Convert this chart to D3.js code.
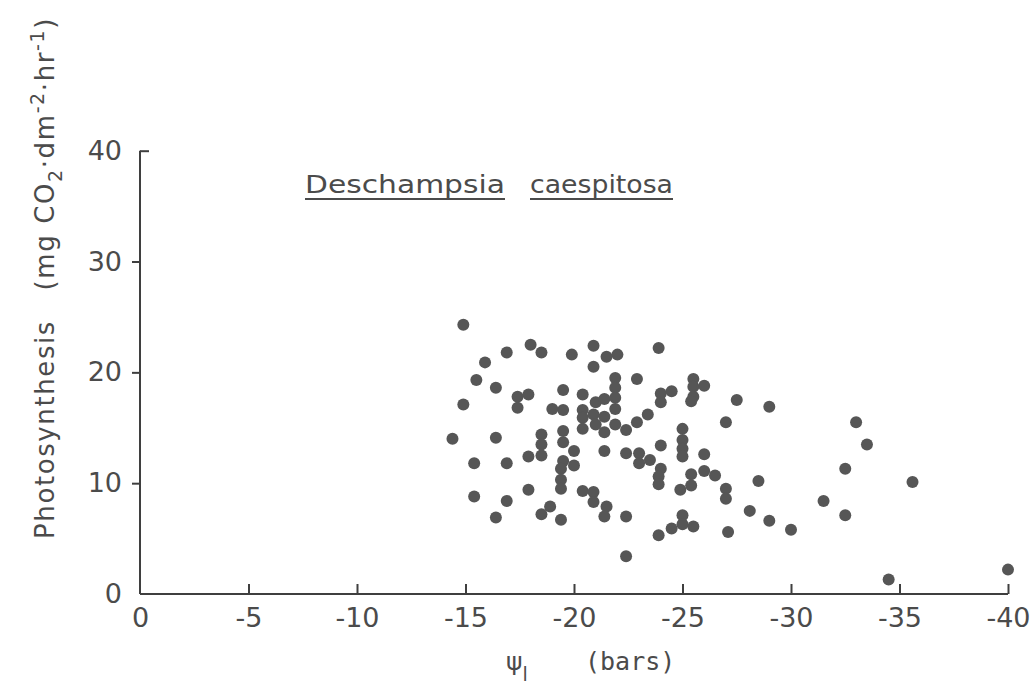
<!DOCTYPE html>
<html>
<head>
<meta charset="utf-8">
<script src="https://cdn.jsdelivr.net/npm/d3@7"></script>
<style>
  html, body { margin: 0; padding: 0; background: #fff; }
  svg { display: block; }
  text { font-family: "DejaVu Sans", sans-serif; fill: #4b4b4b; }
</style>
</head>
<body>
<svg id="plot" width="1032" height="688"></svg>
<script>
// leaf water potential (bars) and net photosynthesis, one entry per leaf
var psi = [
  -14.9, -15.9, -16.9, -18.0, -18.5, -19.9, -20.9, -21.5, -22.0, -20.9,
  -15.5, -16.4, -14.9, -17.4, -17.9, -17.4, -19.5, -19.0, -19.5, -20.4,
  -21.0, -21.4, -21.9, -21.9, -21.9, -21.9, -20.4, -20.4, -20.9, -21.4,
  -21.0, -20.4, -21.4, -21.9, -22.4, -14.4, -16.4, -18.5, -18.5, -19.5,
  -19.5, -20.0, -21.4, -22.4, -15.4, -16.9, -17.9, -18.5, -19.5, -19.4,
  -20.0, -19.4, -19.4, -17.9, -20.4, -20.9, -20.9, -21.5, -21.4, -22.4,
  -15.4, -16.9, -18.9, -18.5, -16.4, -19.4, -22.4, -23.9, -22.9, -22.9,
  -23.4, -24.0, -24.5, -24.0, -25.5, -25.5, -26.0, -25.5, -25.4, -27.5,
  -29.0, -27.0, -25.0, -25.0, -25.0, -24.0, -23.0, -25.0, -26.0, -23.0,
  -23.5, -24.0, -23.9, -23.9, -25.4, -26.0, -26.5, -25.4, -24.9, -27.0,
  -27.0, -28.5, -28.1, -29.0, -30.0, -25.0, -25.0, -24.5, -25.5, -23.9,
  -27.1, -33.0, -33.5, -32.5, -35.6, -31.5, -32.5, -34.5, -40.0
];
var photo = [
  24.3, 20.9, 21.8, 22.5, 21.8, 21.6, 22.4, 21.4, 21.6, 20.5,
  19.3, 18.6, 17.1, 17.8, 18.0, 16.8, 18.4, 16.7, 16.6, 18.0,
  17.3, 17.6, 19.5, 18.6, 17.7, 16.7, 16.6, 15.9, 16.2, 16.0,
  15.3, 14.9, 14.6, 15.3, 14.8, 14.0, 14.1, 14.4, 13.5, 14.7,
  13.7, 12.9, 12.9, 12.7, 11.8, 11.8, 12.4, 12.5, 12.0, 11.3,
  11.6, 10.3, 9.5, 9.4, 9.3, 9.2, 8.3, 7.9, 7.0, 7.0,
  8.8, 8.4, 7.9, 7.2, 6.9, 6.7, 3.4, 22.2, 19.4, 15.5,
  16.2, 18.1, 18.3, 17.3, 19.4, 18.7, 18.8, 17.8, 17.4, 17.5,
  16.9, 15.5, 14.9, 13.9, 13.1, 13.4, 12.7, 12.4, 12.6, 11.8,
  12.1, 11.3, 10.6, 9.9, 10.8, 11.1, 10.7, 9.8, 9.4, 9.5,
  8.6, 10.2, 7.5, 6.6, 5.8, 7.1, 6.3, 5.9, 6.1, 5.3,
  5.6, 15.5, 13.5, 11.3, 10.1, 8.4, 7.1, 1.3, 2.2
];

var xTicks = [0, -5, -10, -15, -20, -25, -30, -35, -40];
var yTicks = [0, 10, 20, 30, 40];

var points = psi.map(function(v, i){ return {psi: v, ps: photo[i]}; });

var svg = d3.select("#plot");

var x = d3.scaleLinear().domain([0, -40]).range([140, 1008]);
var y = d3.scaleLinear().domain([0, 40]).range([594, 150.7]);

// x axis: ticks point up into the plot
var xAxis = svg.append("g")
  .attr("transform", "translate(0," + y(0) + ")")
  .call(d3.axisBottom(x)
    .tickValues(xTicks)
    .tickSize(-10)
    .tickPadding(14)
    .tickFormat(function(d){ return d === 0 ? "0" : "-" + Math.abs(d); }));

// y axis: short ticks on the left, a cap to the right at the top
var yAxis = svg.append("g")
  .attr("transform", "translate(" + x(0) + ",0)")
  .call(d3.axisLeft(y)
    .tickValues(yTicks)
    .tickSize(8)
    .tickPadding(10)
    .tickFormat(d3.format("d")));

yAxis.selectAll(".tick")
  .filter(function(d){ return d === 40; })
  .select("line")
  .attr("x2", 9);
yAxis.selectAll(".tick")
  .filter(function(d){ return d === 0; })
  .select("line")
  .remove();
xAxis.selectAll(".tick")
  .filter(function(d){ return d === 0; })
  .select("line")
  .remove();

svg.selectAll(".domain").remove();
svg.append("line")
  .attr("x1", x(0)).attr("x2", x(-40))
  .attr("y1", y(0)).attr("y2", y(0));
svg.append("line")
  .attr("x1", x(0)).attr("x2", x(0))
  .attr("y1", y(0)).attr("y2", y(40));

svg.selectAll("line")
  .attr("stroke", "#3f3f3f")
  .attr("stroke-width", 2);

svg.selectAll(".tick text")
  .attr("font-family", "DejaVu Sans, sans-serif")
  .attr("font-size", 27)
  .attr("fill", "#4b4b4b");

// dots
svg.append("g")
  .selectAll("circle")
  .data(points)
  .enter()
  .append("circle")
  .attr("cx", function(d){ return x(d.psi); })
  .attr("cy", function(d){ return y(d.ps); })
  .attr("r", 6)
  .attr("fill", "#565656");

// species name, each word underlined on its own
var words = [
  {text: "Deschampsia", x: 305, w: 200},
  {text: "caespitosa", x: 530, w: 143}
];
var title = svg.append("g");
title.selectAll("text")
  .data(words)
  .enter()
  .append("text")
  .attr("x", function(d){ return d.x; })
  .attr("y", 193)
  .attr("font-size", 25)
  .attr("textLength", function(d){ return d.w; })
  .attr("lengthAdjust", "spacingAndGlyphs")
  .text(function(d){ return d.text; });
title.selectAll("line")
  .data(words)
  .enter()
  .append("line")
  .attr("x1", function(d){ return d.x; })
  .attr("x2", function(d){ return d.x + d.w; })
  .attr("y1", 199).attr("y2", 199)
  .attr("stroke", "#4b4b4b")
  .attr("stroke-width", 2);

// x axis title
var xl = svg.append("text")
  .attr("x", 506)
  .attr("y", 670)
  .attr("font-size", 25);
xl.append("tspan").text("\u03c8");
xl.append("tspan").attr("dy", 11).attr("font-size", 19).text("l");
xl.append("tspan").attr("x", 585).attr("y", 670)
  .attr("font-family", "DejaVu Sans Mono, monospace")
  .attr("font-size", 25).text("(bars)");

// y axis title
var yl = svg.append("text")
  .attr("transform", "translate(54,278) rotate(-90)")
  .attr("text-anchor", "middle")
  .attr("font-size", 26)
  .attr("letter-spacing", 1.6);
yl.append("tspan").text("Photosynthesis\u00a0\u00a0\u00a0(mg\u00a0CO");
yl.append("tspan").attr("dy", 8).attr("font-size", 19).text("2");
yl.append("tspan").attr("dy", -8).text("\u00b7dm");
yl.append("tspan").attr("dy", -10).attr("font-size", 19).text("-2");
yl.append("tspan").attr("dy", 10).text("\u00b7hr");
yl.append("tspan").attr("dy", -10).attr("font-size", 19).text("-1");
yl.append("tspan").attr("dy", 10).text(")");
</script>
</body>
</html>
